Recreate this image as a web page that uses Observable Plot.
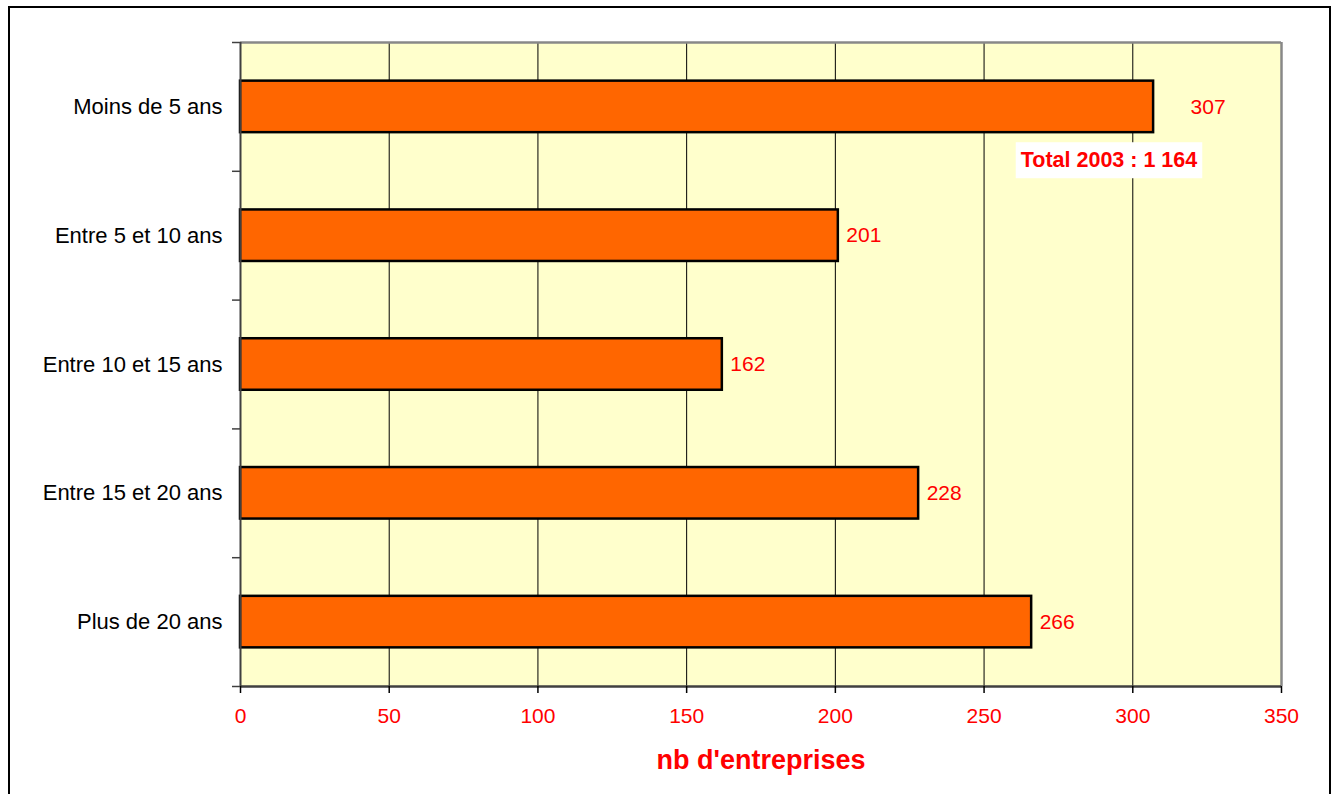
<!DOCTYPE html>
<html>
<head>
<meta charset="utf-8">
<script src="https://cdn.jsdelivr.net/npm/d3@7"></script>
<script src="https://cdn.jsdelivr.net/npm/@observablehq/plot@0.6"></script>
<style>
  html, body { margin: 0; padding: 0; background: #fff; }
  #wrap { position: relative; width: 1338px; height: 794px; overflow: hidden; }
  #border { position: absolute; left: 8px; top: 6px; width: 1323px; height: 800px; border: 2px solid #000; box-sizing: border-box; pointer-events: none; }
</style>
</head>
<body>
<div id="wrap"><div id="chart"></div><div id="border"></div></div>
<script>
const categories = ["Moins de 5 ans", "Entre 5 et 10 ans", "Entre 10 et 15 ans", "Entre 15 et 20 ans", "Plus de 20 ans"];
const values = [307, 201, 162, 228, 266];
const xTicks = [0, 50, 100, 150, 200, 250, 300, 350];
const gridValues = [50, 100, 150, 200, 250, 300];
const totalLabel = "Total 2003 : 1 164";
const xLabel = "nb d'entreprises";

const data = categories.map((c, i) => ({label: c, value: values[i], pos: i}));
const FONT = "'Liberation Sans', Arial, sans-serif";

const chart = Plot.plot({
  width: 1338,
  height: 794,
  marginLeft: 240,
  marginRight: 57,
  marginTop: 42,
  marginBottom: 108,
  style: {fontFamily: FONT, fontSize: "21px", background: "transparent", overflow: "visible"},
  x: {domain: [0, 350], label: null},
  y: {domain: [5, 0], label: null},
  marks: [
    Plot.frame({fill: "#FFFFCC", stroke: "none"}),
    Plot.ruleX(gridValues, {stroke: "#000", strokeWidth: 1}),
    Plot.ruleY([0], {stroke: "#888", strokeWidth: 2.5}),
    Plot.ruleX([350], {stroke: "#888", strokeWidth: 2.5}),
    Plot.rectX(data, {x1: 0, x2: "value", y1: d => d.pos + 0.3, y2: d => d.pos + 0.7,
      fill: "#FF6600", stroke: "#000", strokeWidth: 2.5}),
    Plot.ruleX([0], {stroke: "#404040", strokeWidth: 2}),
    Plot.ruleY([5], {stroke: "#404040", strokeWidth: 2.5}),
    Plot.axisX({ticks: xTicks, tickSize: 7, tickFormat: () => "", label: null, stroke: "#000", strokeWidth: 1.5}),
    Plot.axisX({ticks: xTicks, tickSize: 0, tickPadding: 22, label: null, fill: "#FF0000", color: "#FF0000", fontSize: 21}),
    Plot.axisY({ticks: [0, 1, 2, 3, 4, 5], tickSize: 8, tickFormat: () => "", label: null, stroke: "#404040", strokeWidth: 1.5}),
    Plot.text(data, {x: 0, y: d => d.pos + 0.5, text: "label", textAnchor: "end", dx: -18, fill: "#000", fontSize: 22}),
    Plot.text(data.filter(d => d.pos > 0), {x: "value", y: d => d.pos + 0.5, text: d => String(d.value),
      textAnchor: "start", dx: 8, fill: "#FF0000", fontSize: 21}),
    Plot.text(data.filter(d => d.pos === 0), {x: "value", y: d => d.pos + 0.5, text: d => String(d.value),
      textAnchor: "start", dx: 37, fill: "#FF0000", fontSize: 21}),
    Plot.text([totalLabel], {x: 292, y: 0.915, text: d => d, fill: "#FF0000", fontSize: 21.5,
      fontWeight: "bold"}),
    Plot.text([xLabel], {frameAnchor: "bottom", dy: 82, text: d => d, fill: "#FF0000",
      fontSize: 27, fontWeight: "bold"})
  ]
});

document.getElementById("chart").appendChild(chart);

// white box behind the total annotation
d3.select(chart).selectAll("text").filter(function () { return this.textContent === totalLabel; })
  .each(function () {
    const b = this.getBBox();
    const t = this.getAttribute("transform");
    const r = d3.select(this.parentNode).insert("rect", () => this)
      .attr("x", b.x - 5).attr("y", b.y - 6)
      .attr("width", b.width + 10).attr("height", b.height + 12)
      .attr("fill", "#fff").attr("stroke", "none");
    if (t) r.attr("transform", t);
  });
</script>
</body>
</html>
